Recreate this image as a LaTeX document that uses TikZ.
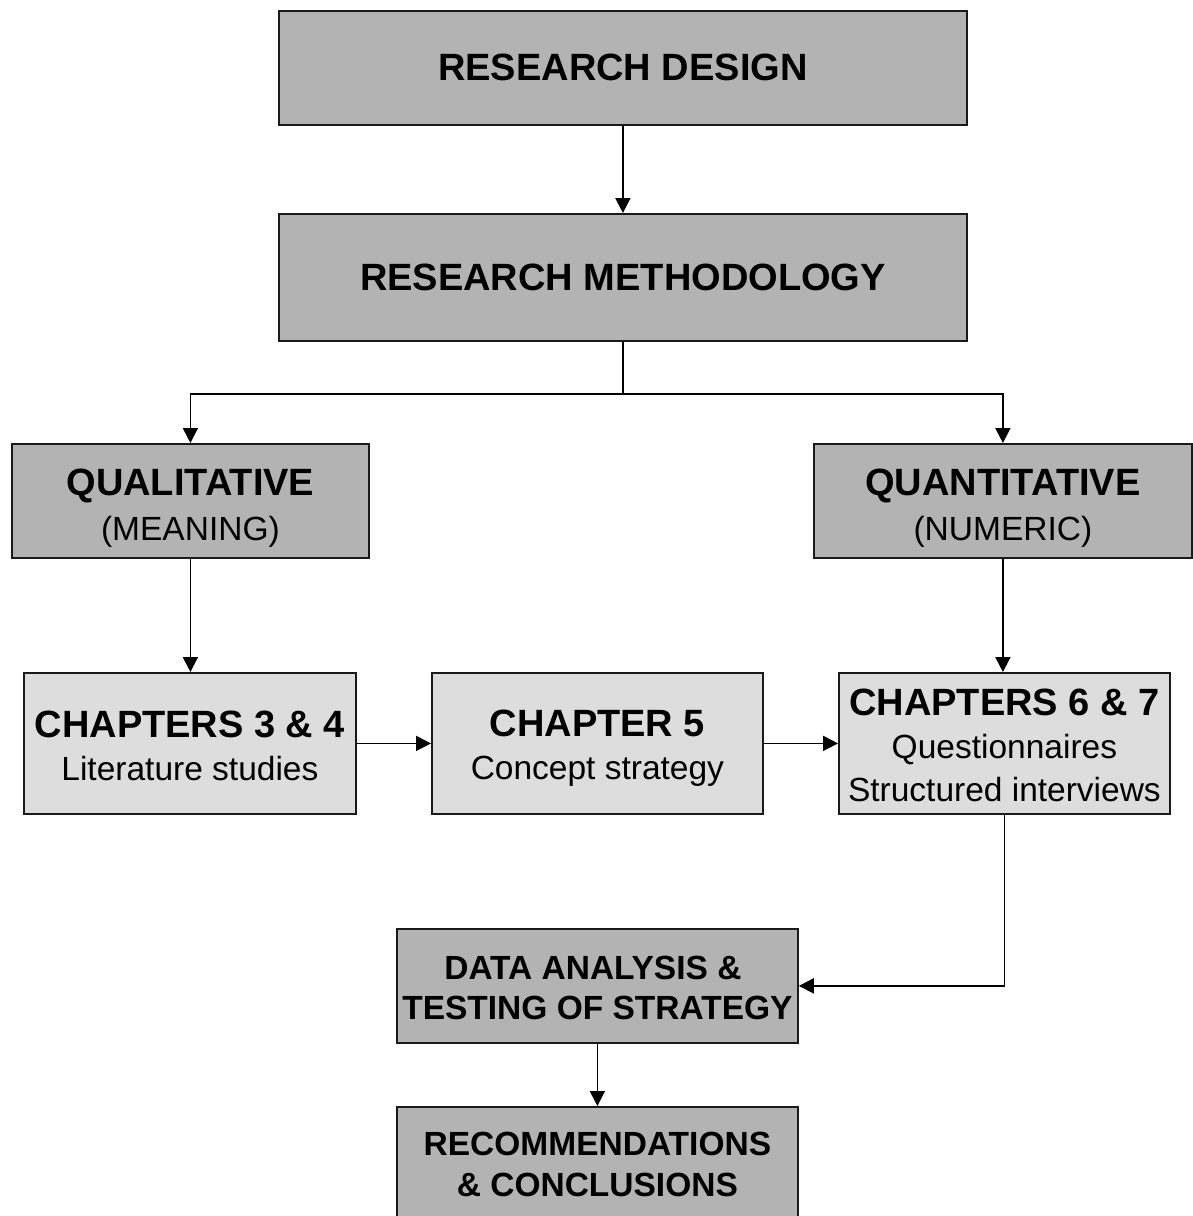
\documentclass[tikz,border=0pt]{standalone}
\usepackage{fontspec}
\setmainfont{Liberation Sans}
\usetikzlibrary{arrows.meta}
\definecolor{stagegray}{HTML}{B3B3B3}
\definecolor{chaptergray}{HTML}{DDDDDD}
\definecolor{edgegray}{HTML}{1A1A1A}
% large bold heading line inside a box
\newcommand{\boxtitle}[1]{{\fontsize{38}{43}\selectfont\bfseries #1}}
\begin{document}
\begin{tikzpicture}[x=1pt,y=-1pt,
  box/.style={draw=edgegray,line width=1.8pt,rectangle,inner sep=0pt,
    anchor=north west},
  stage/.style={box,fill=stagegray},
  chapter/.style={box,fill=chaptergray},
  caption/.style={inner sep=0pt,align=center,font=\fontsize{33.5}{43}\selectfont},
  flow/.style={draw=black,line width=1.8pt,-{Triangle[length=15pt,width=15pt]}},
  link/.style={draw=black,line width=1.8pt}]
\useasboundingbox (0,0) rectangle (1192,1216);

% research stages
\node[stage,minimum width=688pt,minimum height=114pt] (design) at (278,10) {};
\node[caption] (design-text) at (design.center) {\boxtitle{RESEARCH DESIGN}};
\node[stage,minimum width=688pt,minimum height=127pt] (method) at (278,213) {};
\node[caption] (method-text) at (method.center) {\boxtitle{RESEARCH METHODOLOGY}};
\node[stage,minimum width=357pt,minimum height=114pt] (qual) at (11,443) {};
\node[caption,font=\fontsize{33.5}{45}\selectfont] (qual-text)
  at ([yshift=-7pt]qual.center) {\boxtitle{QUALITATIVE}\\(MEANING)};
\node[stage,minimum width=378pt,minimum height=114pt] (quant) at (813,443) {};
\node[caption,font=\fontsize{33.5}{45}\selectfont] (quant-text)
  at ([yshift=-7pt]quant.center) {\boxtitle{QUANTITATIVE}\\(NUMERIC)};

% chapters
\node[chapter,minimum width=332pt,minimum height=141pt] (ch34) at (23,672) {};
\node[caption] (ch34-text) at ([yshift=-2pt]ch34.center)
  {\boxtitle{CHAPTERS 3 \& 4}\\Literature studies};
\node[chapter,minimum width=331pt,minimum height=141pt] (ch5) at (431,672) {};
\node[caption] (ch5-text) at ([yshift=-5pt]ch5.center)
  {\boxtitle{CHAPTER 5}\\Concept strategy};
\node[chapter,minimum width=331pt,minimum height=141pt] (ch67) at (838,672) {};
\node[caption] (ch67-text) at ([yshift=-1.5pt]ch67.center)
  {\boxtitle{CHAPTERS 6 \& 7}\\Questionnaires\\Structured interviews};

% analysis and outcome
\node[stage,minimum width=401pt,minimum height=114pt] (data) at (396,928) {};
\node[caption,font=\fontsize{33.5}{40}\selectfont\bfseries] (data-text)
  at ([yshift=-2pt]data.center) {DATA ANALYSIS \&\hspace*{9pt}\\TESTING OF STRATEGY};
\node[stage,minimum width=401pt,minimum height=116pt] (rec) at (396,1106) {};
\node[caption,font=\fontsize{33.5}{41}\selectfont\bfseries] (rec-text)
  at (rec.center) {RECOMMENDATIONS\\\& CONCLUSIONS};

% connectors
\draw[flow] (design.south) -- (method.north);
\path (method.south) ++(0,52) coordinate (split);
\draw[link] (method.south) -- (split);
\draw[flow] (split) -| (qual.north);
\draw[flow] (split) -| (quant.north);
\draw[flow] (qual.south) -- (qual.south |- ch34.north);
\draw[flow] (quant.south) -- (quant.south |- ch67.north);
\draw[flow] (ch34.east) -- (ch5.west);
\draw[flow] (ch5.east) -- (ch67.west);
\draw[flow] (ch67.south) |- (data.east);
\draw[flow] (data.south) -- (rec.north);
\end{tikzpicture}
\end{document}
